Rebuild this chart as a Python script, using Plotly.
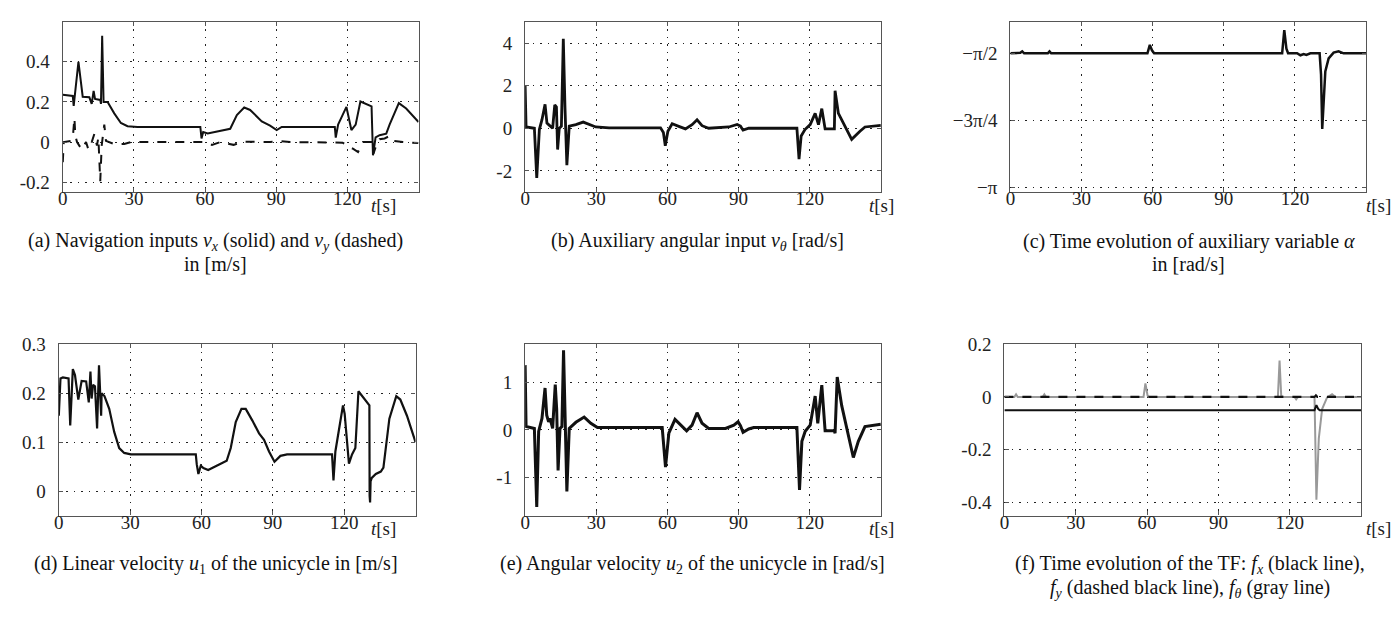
import plotly.graph_objects as go
import math

# ---------------- data ----------------
# (a) navigation inputs
a_vx_t = [0, 4.2, 4.6, 6.6, 8.4, 11.2, 12.2, 13, 13.6, 15.8, 16.1, 16.6, 17.2, 18.9, 21.7, 24.5, 27.3, 31.5,
          58, 58.5, 59.2, 61.1, 70.6, 73.4, 76.5, 79, 83.9, 87.4, 90.2, 92.3, 114.7, 115.1, 116.1, 119.6,
          121.7, 123.5, 125.5, 129.4, 130.2, 130.8, 131.9, 133.6, 136.4, 137.8, 141.7, 144.8, 150]
a_vx_v = [0.236, 0.23, 0.18, 0.40, 0.226, 0.223, 0.19, 0.255, 0.215, 0.21, 0.19, 0.53, 0.2, 0.2, 0.143, 0.095,
          0.079, 0.075, 0.075, 0.018, 0.05, 0.043, 0.066, 0.135, 0.172, 0.16, 0.103, 0.082, 0.06, 0.075, 0.075,
          0.022, 0.087, 0.175, 0.06, 0.087, 0.202, 0.183, 0.178, -0.066, 0.023, 0.034, 0.042, 0.087, 0.194,
          0.167, 0.100]
a_vy_t = [0, 0.4, 3.5, 4.2, 4.9, 5.3, 6, 8, 9.8, 10.8, 12.2, 13.3, 14.4, 15, 15.8, 16.4, 17.5, 18.2, 21.7, 25.9,
          28.7, 58, 59.4, 62.9, 66.4, 72, 76.2, 87.4, 91.6, 95.8, 115.4, 118, 121, 122.5, 124.5, 126.6, 130, 131,
          131.9, 133.6, 135.7, 137.8, 139.2, 143.4, 150]
a_vy_v = [-0.1, 0, 0.006, 0.018, 0.12, 0.03, 0, -0.037, 0, -0.037, 0, 0.04, -0.018, 0.022, -0.195, -0.018, 0.087,
          0.006, -0.01, -0.01, 0, 0, 0, -0.014, 0, -0.014, 0.002, 0, 0.005, 0, 0, -0.003, -0.026, -0.034, -0.05,
          0, 0, -0.058, -0.026, 0.014, 0.018, 0.03, 0.006, 0, -0.005]

# (b) auxiliary angular input
b_t = [0, 0.4, 3.9, 4.9, 6, 7.1, 8.4, 9.2, 9.9, 10.6, 11.6, 12.5, 13.2, 13.7, 14.4, 15.3, 16.1, 16.8, 17.6, 18.6,
       21.4, 24.5, 27, 29.8, 35.4, 57.1, 58.3, 59.1, 60.2, 62, 64.8, 67.6, 70.4, 72.5, 74.6, 77.4, 85.9, 89.4,
       90.8, 91.9, 94.3, 114.6, 115.5, 116.4, 118, 120.2, 122.3, 123.7, 125.1, 126.5, 130.4, 130.7, 132.1,
       134.9, 137.7, 141.2, 143.3, 150]
b_v = [2.0, 0.06, 0, -2.33, -0.06, 0.4, 1.12, 0.24, 0.17, 0.1, 0, 1.1, 1.0, -1.0, 0, 0.1, 4.2, 1.0, -1.73, 0.1,
       0.17, 0.29, 0.17, 0.06, 0.02, 0.02, -0.2, -0.82, -0.14, 0.21, 0.09, -0.03, 0.17, 0.4, 0.12, 0, 0.06, 0.18,
       0.1, -0.09, 0, 0, -1.45, -0.36, -0.06, 0.17, 0.7, 0.17, 0.92, -0.03, -0.03, 1.76, 0.7, 0.09, -0.52, -0.14,
       0.06, 0.14]

# (c) auxiliary variable alpha
c_t = [0, 4.2, 5.0, 5.8, 15.8, 16.5, 17.2, 57.8, 58.8, 59.7, 60.6, 114.6, 115.5, 116.4, 117.1, 120.9, 122.3,
       123.7, 124.8, 126.5, 130.4, 131.0, 131.5, 132.1, 132.8, 134.2, 136.3, 138.4, 140.5, 150]
c_v = [-1.5708, -1.565, -1.548, -1.5708, -1.5708, -1.548, -1.5708, -1.5708, -1.472, -1.536, -1.5708, -1.5708,
       -1.298, -1.518, -1.5708, -1.5708, -1.594, -1.58, -1.59, -1.5708, -1.5708, -1.821, -2.458, -2.049,
       -1.783, -1.631, -1.563, -1.548, -1.5708, -1.5708]

# (d) linear velocity u1
d_t = [0, 0.7, 1.7, 4.1, 4.8, 5.9, 6.8, 8.2, 9.6, 11.5, 12.6, 13.3, 13.8, 14.4, 15.2, 16.1, 16.9, 17.8, 18,
       19.2, 21.2, 23.3, 25.4, 27.5, 30.3, 57.6, 58, 58.7, 59.7, 60.8, 62.8, 66.7, 70.6, 72.3, 74.4, 76.8, 78.6,
       81.4, 84.2, 86.3, 88.4, 90.7, 93.2, 96, 114.9, 115.5, 116.3, 118.1, 119.5, 120.2, 122, 123.3, 124.7,
       126, 128.2, 130.6, 130.7, 130.9, 131.1, 131.6, 133.3, 135.4, 136.5, 139.0, 141.9, 143.6, 146.4, 150]
d_v = [0.154, 0.23, 0.232, 0.23, 0.134, 0.249, 0.237, 0.187, 0.225, 0.224, 0.181, 0.244, 0.189, 0.217, 0.214,
       0.128, 0.257, 0.154, 0.2, 0.194, 0.168, 0.121, 0.088, 0.078, 0.075, 0.075, 0.055, 0.035, 0.052, 0.047,
       0.043, 0.052, 0.062, 0.088, 0.141, 0.168, 0.168, 0.144, 0.118, 0.105, 0.081, 0.06, 0.072, 0.075, 0.075,
       0.022, 0.081, 0.134, 0.175, 0.158, 0.056, 0.075, 0.088, 0.204, 0.191, 0.175, -0.01, -0.023, 0.02, 0.027,
       0.035, 0.04, 0.048, 0.148, 0.194, 0.187, 0.154, 0.100]

# (e) angular velocity u2
e_t = [0, 0.4, 3.9, 4.9, 5.7, 7.1, 8.4, 9.1, 9.9, 10.5, 11.6, 12.7, 13.3, 13.9, 14.7, 15.5, 16.2, 16.9, 17.6,
       18.6, 21.4, 24.9, 27.7, 30.5, 57.8, 59.2, 60.6, 63.2, 65.5, 68.1, 70.4, 72.5, 74.6, 77.4, 84.5, 88, 89.8,
       90.8, 91.9, 94.3, 96.4, 114.6, 115.7, 116.7, 118.1, 120.2, 122.3, 123.4, 125.1, 126.5, 130.4, 130.7,
       131.6, 133.5, 138.4, 140.5, 143.3, 150]
e_v = [1.36, 0.07, 0.03, -1.62, -0.03, 0.24, 0.88, 0.31, 0.17, 0.24, 0.03, 0.95, 0.44, -0.85, 0.03, 0.07, 1.67,
       0.31, -1.29, 0.03, 0.16, 0.27, 0.14, 0.05, 0.05, -0.78, -0.07, 0.22, 0.1, -0.02, 0.1, 0.36, 0.14, 0.03,
       0.03, 0.1, 0.17, 0.09, -0.05, 0.02, 0.05, 0.05, -1.26, -0.24, -0.03, 0.1, 0.71, 0.14, 0.94, -0.02, -0.02,
       -0.07, 1.11, 0.51, -0.58, -0.24, 0.07, 0.12]

# (f) TF components
f_x_t = [0, 130.4, 131.2, 132.0, 132.6, 150]
f_x_v = [-0.05, -0.05, -0.031, -0.046, -0.05, -0.05]
f_y_t = [0, 130.4, 131.0, 131.6, 150]
f_y_v = [0, 0, 0.006, 0, 0]
f_th_t = [0, 4.2, 4.9, 5.6, 16.1, 16.8, 17.5, 58.5, 59.3, 60.2, 60.8, 115, 115.7, 116.4, 117.2, 122.0, 122.7,
          123.5, 130.4, 131.2, 132.2, 133.6, 135.7, 137.8, 139.2, 150]
f_th_v = [0, 0, 0.01, 0, 0, 0.01, 0, 0, 0.051, 0.005, 0, 0, 0.138, 0.004, 0, 0, -0.009, 0, 0, -0.39, -0.158,
          -0.046, -0.002, 0.01, 0, 0]

# tick labels
x_ticks = [0, 30, 60, 90, 120]
a_yticks = [0.4, 0.2, 0, -0.2]
a_ylabels = ["0.4", "0.2", "0", "-0.2"]
b_yticks = [4, 2, 0, -2]
b_ylabels = ["4", "2", "0", "-2"]
c_yticks = [-math.pi / 2, -3 * math.pi / 4, -math.pi]
c_ylabels = ["\u2212\u03c0/2", "\u22123\u03c0/4", "\u2212\u03c0"]
d_yticks = [0.3, 0.2, 0.1, 0]
d_ylabels = ["0.3", "0.2", "0.1", "0"]
e_yticks = [1, 0, -1]
e_ylabels = ["1", "0", "-1"]
f_yticks = [0.2, 0, -0.2, -0.4]
f_ylabels = ["0.2", "0", "-0.2", "-0.4"]

captions = [
    ["(a) Navigation inputs <i>v<sub>x</sub></i> (solid) and <i>v<sub>y</sub></i> (dashed)", "in [m/s]"],
    ["(b) Auxiliary angular input <i>v</i><sub><i>\u03b8</i></sub> [rad/s]"],
    ["(c) Time evolution of auxiliary variable <i>\u03b1</i>", "in [rad/s]"],
    ["(d) Linear velocity <i>u</i><sub>1</sub> of the unicycle in [m/s]"],
    ["(e) Angular velocity <i>u</i><sub>2</sub> of the unicycle in [rad/s]"],
    ["(f) Time evolution of the TF: <i>f<sub>x</sub></i> (black line),",
     "<i>f<sub>y</sub></i> (dashed black line), <i>f<sub>\u03b8</sub></i> (gray line)"],
]

# ---------------- layout geometry (pixels) ----------------
W, H = 1394, 622
FONT = "Liberation Serif"
CAPFONT = "Liberation Serif"


def px_x(a, b):
    return [a / W, b / W]


def px_y(top, bottom):
    return [1 - bottom / H, 1 - top / H]


panels = [
    dict(xd=px_x(58, 415), yd=px_y(12, 187), yr=[-0.25, 0.6], yt=a_yticks, yl=a_ylabels),
    dict(xd=px_x(522, 879), yd=px_y(12, 187), yr=[-3, 5], yt=b_yticks, yl=b_ylabels),
    dict(xd=px_x(1009, 1366), yd=px_y(12, 187), yr=[-3.2, -1.2], yt=c_yticks, yl=c_ylabels),
    dict(xd=px_x(54, 412), yd=px_y(343, 519), yr=[-0.05, 0.3], yt=d_yticks, yl=d_ylabels),
    dict(xd=px_x(522, 879), yd=px_y(343, 519), yr=[-1.8, 1.8], yt=e_yticks, yl=e_ylabels),
    dict(xd=px_x(1003, 1361), yd=px_y(343, 519), yr=[-0.45, 0.2], yt=f_yticks, yl=f_ylabels),
]

fig = go.Figure()

AX = dict(showline=True, linecolor="#555555", linewidth=1.3, mirror="ticks", ticks="inside", ticklen=4,
          tickcolor="#555555", showgrid=True, gridcolor="#222222", griddash="1.5px,6px", gridwidth=1.2,
          zeroline=False, tickfont=dict(family=FONT, size=19, color="#222222"))

layout = {}
for i, p in enumerate(panels, start=1):
    sx = "" if i == 1 else str(i)
    layout["xaxis" + sx] = dict(AX, domain=p["xd"], range=[0, 150], tickvals=x_ticks,
                                ticktext=[str(v) for v in x_ticks], anchor="y" + sx,
                                ticklabelstandoff=-11)
    layout["yaxis" + sx] = dict(AX, domain=p["yd"], range=p["yr"], tickvals=p["yt"], ticktext=p["yl"],
                                anchor="x" + sx, ticklabelstandoff=8)


def add(i, t, v, color="#111111", width=2.0, dash="solid"):
    sx = "" if i == 1 else str(i)
    fig.add_trace(go.Scatter(x=t, y=v, mode="lines", xaxis="x" + sx, yaxis="y" + sx,
                             line=dict(color=color, width=width, dash=dash), showlegend=False,
                             hoverinfo="skip"))


add(1, a_vy_t, a_vy_v, width=2.0, dash="dash")
add(1, a_vx_t, a_vx_v, width=2.0)
add(2, b_t, b_v, width=2.8)
add(3, c_t, c_v, width=2.5)
add(4, d_t, d_v, width=2.2)
add(5, e_t, e_v, width=3.0)
add(6, f_th_t, f_th_v, color="#999999", width=2.0)
add(6, f_x_t, f_x_v, width=2.0)
add(6, f_y_t, f_y_v, width=2.2, dash="dash")

annotations = []
# t[s] labels
for xc, yc in [(380, 201), (880, 201), (1378, 201), (380, 532), (880, 532), (1378, 532)]:
    annotations.append(dict(text="<i>t</i>[s]", x=xc / W, y=1 - yc / H, xref="paper", yref="paper",
                            showarrow=False, xanchor="center", yanchor="middle",
                            font=dict(family=FONT, size=19, color="#222222")))
# captions (one annotation per line)
cap_pos = [(211, 238, 23), (695, 238, 23), (1188, 238, 23), (212, 569, 25), (690, 569, 25), (1189, 569, 25)]
for lines, (xc, yc, gap) in zip(captions, cap_pos):
    for k, txt in enumerate(lines):
        annotations.append(dict(text=txt, x=xc / W, y=1 - (yc + gap * k) / H, xref="paper", yref="paper",
                                showarrow=False, xanchor="center", yanchor="middle", align="center",
                                font=dict(family=CAPFONT, size=20, color="#111111")))

fig.update_layout(width=W, height=H, margin=dict(l=0, r=0, t=0, b=0), paper_bgcolor="white",
                  plot_bgcolor="white", annotations=annotations, **layout)

fig.write_html("out.html")
